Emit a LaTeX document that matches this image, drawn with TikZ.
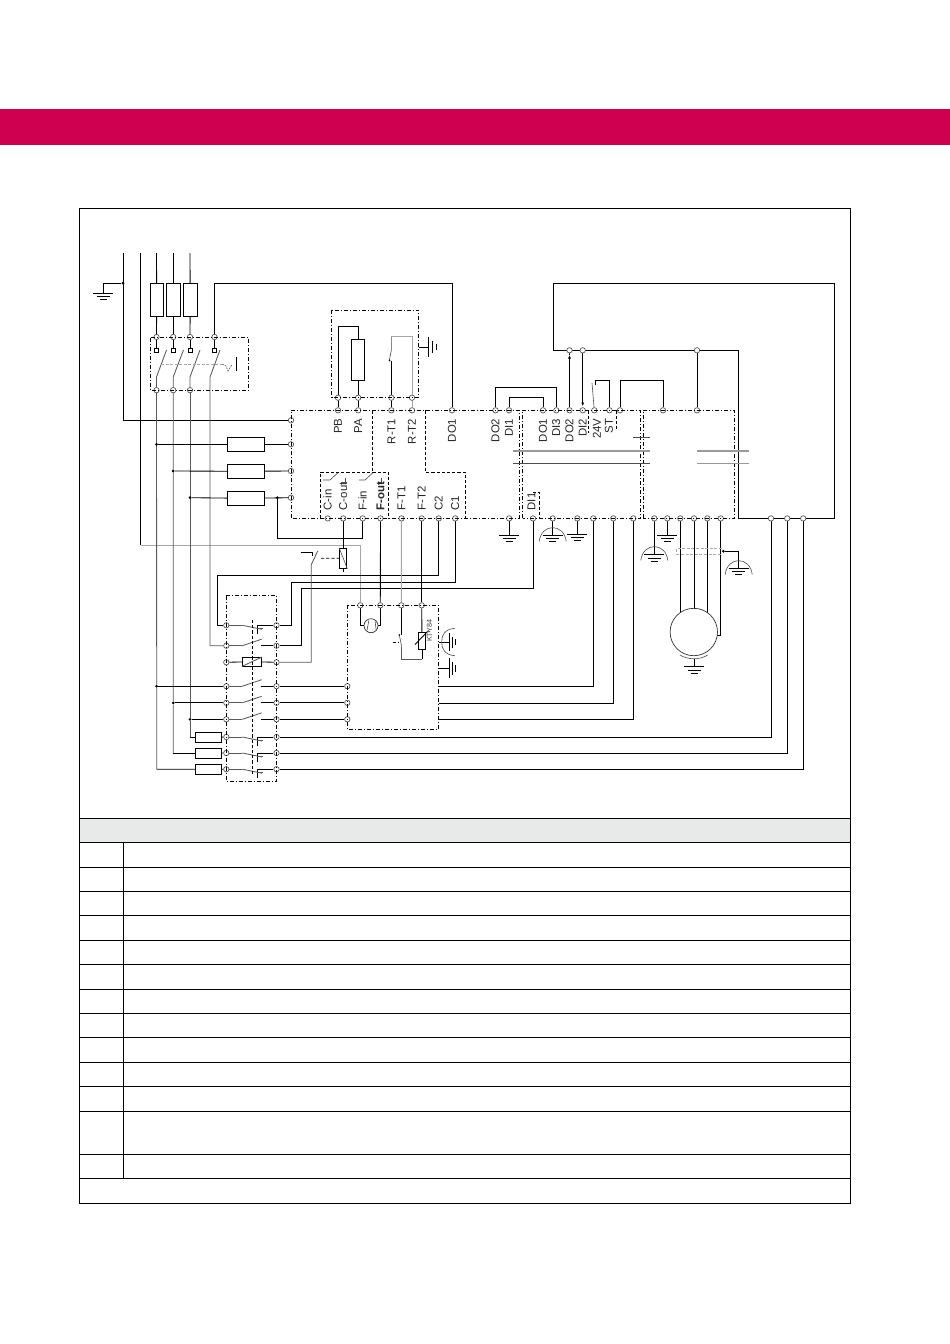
\documentclass[tikz,border=0pt]{standalone}
\usepackage{fontspec}
\setmainfont{Liberation Sans}
\usetikzlibrary{backgrounds,arrows.meta}
\definecolor{kebred}{RGB}{208,0,80}
\definecolor{headgrey}{RGB}{232,234,233}
\tikzset{
  term/.style={circle,draw=black!70,fill=white,line width=0.65pt,minimum size=5.4pt,inner sep=0pt},
  wire/.style={draw=black,line width=0.85pt},
  gwire/.style={draw=black!65,line width=0.85pt},
  lwire/.style={draw=black!35,line width=1pt},
  thin wire/.style={draw=black!70,line width=0.6pt},
  dbox/.style={draw=black,line width=0.8pt,dash pattern=on 4pt off 2pt on 1pt off 2pt},
  dsh/.style={draw=black,line width=0.8pt,dash pattern=on 3.2pt off 2pt},
  fuse/.style={rectangle,draw=black,fill=white,line width=0.85pt,inner sep=0pt},
  jdot/.style={circle,fill=black,inner sep=0pt,minimum size=3pt},
  lab/.style={rotate=90,inner sep=0pt,text=black!85,text height=7.8pt,text depth=0pt,font=\fontsize{11.4}{12}\selectfont},
  tab/.style={draw=black,line width=0.85pt}
}
\newcommand{\gndh}[2]{%
  \draw[wire] (#1-10,#2)--(#1+10,#2) (#1-6.5,#2+3.5)--(#1+6.5,#2+3.5) (#1-3.5,#2+6.5)--(#1+3.5,#2+6.5);}
\newcommand{\shield}[2]{%
  \draw[thin wire] (#1-13.5,#2+6.5) .. controls (#1-11.5,#2-12) and (#1+11.5,#2-12) .. (#1+13.5,#2+6.5);}
\newcommand{\nccontact}[1]{%
  \draw[gwire] (242.3,#1) -- (262,#1+4);
  \draw[wire] (257.3,#1) -- (257.3,#1+8.5);
  \draw[gwire] (257.3,#1+3.5) -- (263,#1+3.5);}
\newcommand{\nocontact}[1]{%
  \draw[gwire] (242.3,#1) -- (261.7,#1-6.5);}
\begin{document}
\begin{tikzpicture}[x=1pt,y=-1pt]
\useasboundingbox (0,0) rectangle (950,1344);
% band and frame
\fill[kebred] (0,108.5) rectangle (950,145);
\draw[tab] (79.5,208.5) rectangle (850.5,1203.3);
\fill[headgrey] (79.5,818.3) rectangle (850.5,842.3);
\foreach \yy in {818.3,842.3,867.3,891.3,915.3,940.3,964.3,989.3,1013.3,1037.3,1062.3,1086.3,1111.3,1154.3,1178.3}
  \draw[tab] (79.5,\yy) -- (850.5,\yy);
\draw[tab] (123.4,842.3) -- (123.4,1178.3);
\draw[tab] (79.5,208.5) rectangle (850.5,1203.3);
% terminals
\foreach \n/\x in {tPB/338,tPA/358.2,tRa/391.4,tRb/412,tDOa/452,tDOb/495.5,tDIa/509,tDOc/543,tDIc/556.3,tDOd/569.5,tDIb/582.7,tV/594.3,tST/609.5,tX/620,tY/663,tZ/697}
  \node[term] (\n) at (\x,410.3) {};
\foreach \n/\x in {bCi/327.7,bCo/343.2,bFi/362.7,bFo/380.5,bFa/401.5,bFb/421.7,bCb/438.7,bCa/455.3,bE/509.2,bDI/533,bSa/552.7,bSb/577.3,bUa/593.3,bUb/613.3,bUc/633.3,bSc/654.3,bSd/667.3,bMa/680.3,bMb/694,bMc/707.3,bMd/720.7,bWa/771,bWb/787.2,bWc/803.2}
  \node[term] (\n) at (\x,518.4) {};
\foreach \n/\x/\y in {rA/338/397.7,rB/358.2/397.7,rC/391.4/397.7,rD/412/397.7,
   qA/156.5/337,qB/173.2/337,qC/190/337,qD/214.5/337,
   sA/156.5/390.2,sB/173.2/390.2,sC/190/390.2,
   lA/291/420.3,lB/291/444.3,lC/291/471,lD/291/497.7,
   pA/569.5/350.3,pB/582.7/350.3,pC/697/350.3,
   mA/360.3/605.3,mB/380.3/605.3,mC/401.3/605.3,mD/421.7/605.3,
   mE/347.3/686.2,mF/347.3/702.8,mG/347.3/719.3}
  \node[term] (\n) at (\x,\y) {};
\foreach \i/\y in {1/625.3,2/645.7,3/662.3,4/686.2,5/702.8,6/719.3,7/737,8/753,9/769.2}{
  \node[term] (cL\i) at (226.3,\y) {};
  \node[term] (cR\i) at (276.5,\y) {};
}
% small contact squares
\foreach \n/\x in {kA/156.5,kB/173.2,kC/190,kD/214.5}
  \node[fuse,minimum size=4.2pt,line width=0.7pt] (\n) at (\x,350) {};
% free points and junctions
\coordinate (top1) at (123,253); \coordinate (top2) at (140.5,253);
\coordinate (top3) at (156.5,253); \coordinate (top4) at (173.2,253); \coordinate (top5) at (190,253);
\node[jdot] (jG) at (123,283) {};
\node[jdot] (jA) at (156.5,444.3) {};
\node[jdot] (jB) at (173.2,471) {};
\node[jdot] (jC) at (190,497.7) {};
\node[jdot] (jD) at (277.3,497.7) {};
\node[jdot] (jE) at (156.7,686.2) {};
\node[jdot] (jF) at (173.3,702.8) {};
\node[jdot] (jH) at (190,719.3) {};
\node[jdot] (jS) at (723.3,551.3) {};
% fuses and resistors
\foreach \n/\x in {fA/156.7,fB/173.2,fC/190.2}
  \node[fuse,minimum width=13.5pt,minimum height=33.5pt] (\n) at (\x,300) {};
\foreach \n/\y in {gA/444.3,gB/471.3,gC/498.3}
  \node[fuse,minimum width=37.4pt,minimum height=14pt] (\n) at (246,\y) {};
\foreach \n/\y in {hA/737.3,hB/753.1,hC/769.3}
  \node[fuse,minimum width=26pt,minimum height=10pt] (\n) at (208.3,\y) {};
\node[fuse,minimum width=13.4pt,minimum height=41.4pt] (rBrake) at (358.2,360) {};
\node[fuse,minimum width=7.4pt,minimum height=20.3pt] (rRel) at (343.2,558.2) {};
\node[fuse,minimum width=19.4pt,minimum height=8.7pt] (rCoil) at (252,661.7) {};
\node[fuse,minimum width=7.4pt,minimum height=17pt] (rKTY) at (422,640.8) {};
\node[circle,draw=black!80,line width=0.7pt,minimum size=47.4pt,inner sep=0pt] (motor) at (693.8,632) {};
\node[circle,draw=black!80,line width=0.7pt,minimum size=14pt,inner sep=0pt] (fan) at (371,625.7) {};
\begin{pgfonlayer}{background}
% supply lines
\draw[wire] (top1) -- (123,420.3) -- (lA);
\draw[wire] (jG) -- (103,283) -- (103,293);
\draw[wire] (top2) -- (140.5,545);
\draw[lwire] (140.5,545) -- (360.3,545) -- (mA);
\draw[wire] (top3) -- (fA); \draw[wire] (top4) -- (fB); \draw[wire] (top5) -- (fC);
\draw[wire] (fA) -- (qA); \draw[wire] (fB) -- (qB); \draw[wire] (fC) -- (qC);
\draw[wire] (qD) -- (214.5,283) -| (tDOa);
\draw[wire] (qA) -- (kA); \draw[wire] (qB) -- (kB); \draw[wire] (qC) -- (kC); \draw[wire] (qD) -- (kD);
\draw[gwire] (sA) -- (156.5,377) -- (166.5,350);
\draw[gwire] (sB) -- (173.2,377) -- (183.5,350);
\draw[gwire] (sC) -- (190,377) -- (200,350);
\draw[gwire] (cL2) -- (210,645.7) -- (210,377) -- (220,350);
\draw[gwire] (sA) -- (jE) (jE) -- (156.7,769.2);
\draw[gwire] (sB) -- (jF) (jF) -- (173.3,753);
\draw[gwire] (sC) -- (jH) (jH) -- (190,737);
\draw[wire] (156.7,769.2) -- (hC); \draw[wire] (173.3,753.1) -- (hB); \draw[wire] (190,737.3) -- (hA);
\draw[wire] (hC) -- (cL9); \draw[wire] (hB) -- (cL8); \draw[wire] (hA) -- (cL7);
\draw[wire] (jA) -- (gA) -- (lB); \draw[wire] (jB) -- (gB) -- (lC); \draw[wire] (jC) -- (gC) -- (lD);
\draw[wire] (bFi) -- (362.7,538.3) -- (277.3,538.3) -- (jD);
% brake resistor box
\draw[wire] (tPB) -- (338,326.7) -| (rBrake);
\draw[wire] (rBrake) -- (tPA);
\draw[wire] (tRa) -- (391.4,360.7);
\draw[thin wire] (389.4,360) -- (391.4,350) -- (391.4,336.7);
\draw[lwire] (391.4,336.7) -- (412,336.7) -- (tRb);
\draw[wire] (tDOb) -- ++(0,-22.8) -| (tDIc);
\draw[wire] (tDIa) -- ++(0,-13.3) -| (tDOc);
\draw[wire,-{Latex[length=3.5pt,width=3pt]}] (tDOd) -- (569.5,355);
\draw[wire] (569.5,355) -- (pA);
\draw[wire,-{Latex[length=3.5pt,width=3pt]}] (pB) -- (582.7,406);
\draw[thin wire] (tV) -- (592,383);
\draw[wire] (595,385) -- (595,380.3) -| (tST);
\draw[wire] (tX) -- ++(0,-30) -| (tY);
\draw[wire] (tZ) -- (pC);
\draw[wire] (553.3,350.3) -- (738.7,350.3) -- (738.7,518.6) -- (834.7,518.6) -- (834.7,283.3) -- (553.3,283.3) -- cycle;
% motor and outputs
\draw[wire] (bMa) -- (680.3,612.7);
\draw[wire] (bMb) -- (694,608.5);
\draw[wire] (bMc) -- (707.3,612.7);
\draw[wire] (bMd) -- (720.7,635.7) -- (717.4,635.7);
\draw[thin wire] (680,655) .. controls (688,660) and (700,660) .. (707.7,655);
\draw[wire] (694,658.5) -- (694,666.7);
\draw[draw=black!35,line width=0.7pt,dash pattern=on 3pt off 1.6pt] (722,548.3) -- (676.7,548.3) -- (676.7,554) -- (722,554);
\draw[wire] (jS) -- (738.7,551.3) -- (738.7,568.3);
\draw[wire] (bSc) -- (654.3,555);
\draw[wire] (bSd) -- (667.3,535.3);
\draw[wire] (bE) -- (509.2,535.3);
\draw[wire] (bSa) -- (552.7,535);
\draw[wire] (bSb) -- (577.3,534.3);
\draw[wire] (bDI) -- (533,588.3) -- (301.7,588.3) -- (301.7,645.7) -- (cR2);
\draw[wire] (bCb) -- (438.7,575) -- (217.3,575) -- (217.3,625.3) -- (cL1);
\draw[wire] (bCa) -- (455.3,582) -- (291.7,582) -- (291.7,625.3) -- (cR1);
\draw[wire] (bCo) -- (rRel); \draw[wire] (rRel) -- (343.2,571.7);
\draw[wire] (bFo) -- (mB);
\draw[lwire] (bFa) -- (mC);
\draw[wire] (bFb) -- (mD);
\draw[wire] (cR7) -- (771,737) -- (bWa);
\draw[wire] (cR8) -- (787.2,753) -- (bWb);
\draw[wire] (cR9) -- (803.2,769.2) -- (bWc);
\draw[wire] (cR4) -- (mE); \draw[wire] (cR5) -- (mF); \draw[wire] (cR6) -- (mG);
\draw[wire] (438.7,686.3) -- (593.3,686.3) -- (bUa);
\draw[wire] (438.7,703) -- (613.3,703) -- (bUb);
\draw[wire] (438.7,719.3) -- (633.3,719.3) -- (bUc);
% left contactor wiring
\draw[gwire] (cL1) -- (242.3,625.3); \draw[wire] (cR1) -- (257.3,625.3);
\draw[gwire] (cL2) -- (242.3,645.7); \draw[wire] (cR2) -- (260.7,645.7);
\draw[wire] (cL3) -- (rCoil) -- (cR3);
\draw[gwire] (cR3) -- (311.3,662.3) -- (311.3,564.6) -- (317.7,551);
\draw[wire] (300.7,552) -- (312.3,552) -- (312.3,556);
\draw[dsh] (321,558.3) -- (rRel);
\draw[wire] (jE) -- (cL4); \draw[wire] (jF) -- (cL5); \draw[wire] (jH) -- (cL6);
\draw[wire] (cR7) -- (257.3,737); \draw[wire] (cR8) -- (257.3,753); \draw[wire] (cR9) -- (257.3,769.2);
\foreach \yy in {686.2,702.8,719.3} { \draw[wire] (260.7,\yy) -- (276.5,\yy); \draw[gwire] (226.3,\yy) -- (242.3,\yy);}
\foreach \yy in {737,753,769.2} \draw[gwire] (226.3,\yy) -- (242.3,\yy);
% fan, thermal contact and sensor
\draw[wire] (mA) -- (360.3,625.7) -- (fan);
\draw[wire] (mB) -- (380.3,625.7) -- (fan);
\draw[wire] (mC) -- (401.3,635);
\draw[thin wire] (399.3,635) -- (401.7,646.7);
\draw[gwire] (401.7,646.7) -- (401.7,659.3) -- (422,659.3);
\draw[wire] (422,659.3) -- (rKTY);
\draw[wire] (mD) -- (rKTY);
\draw[wire] (438.7,642) -- (449.3,642);
\draw[wire] (438.7,668.3) -- (449.3,668.3);
\draw[wire] (418.7,347) -- (428.3,347);
\end{pgfonlayer}
% contacts
\draw[gwire] (rCoil.south west) -- (rCoil.north east);
\draw[thin wire] (rRel.north west) -- (rRel.south east);
\nccontact{625.3}
\nocontact{645.7}
\nocontact{686.2}\nocontact{702.8}\nocontact{719.3}
\nccontact{737}\nccontact{753}\nccontact{769.2}
\draw[thin wire] (367,630.5) -- (368.8,620.5) (375,620.5) -- (376.2,630.5);
% thermal details
\fill (399.3,635) circle (0.9pt);
\fill (389.6,360.5) circle (0.9pt);
\draw[dsh] (393,642.3) -- (399.3,642.3);
\draw[wire] (415,644.5) -- (427.3,631.7) -- (430,631.7);
\node[rotate=90,anchor=west,inner sep=0pt,text=black!75,font=\fontsize{7.2}{8}\selectfont] (lKTY) at (429.3,642) {KTY84};
% dash-dotted boxes
\draw[dbox] (150.5,337.5) rectangle (248.5,390);
\draw[dbox] (331.7,310.3) rectangle (418.7,397.7);
\draw[dbox] (291.2,518.4) -- (291.2,410.3) -- (519,410.3) -- (519,518.4) -- cycle;
\draw[dbox] (522.5,518.4) -- (522.5,410.3) -- (640.7,410.3) -- (640.7,518.4) -- cycle;
\draw[dbox] (643.3,518.4) -- (643.3,410.3) -- (734.7,410.3) -- (734.7,518.4) -- cycle;
\draw[dbox] (226.3,595.5) rectangle (276.6,781);
\draw[dbox] (347.3,605.3) rectangle (438.7,729.3);
\draw[dsh] (372.5,410.3) -- (372.5,472) (425.5,410.3) -- (425.5,472) -- (465,472) -- (465,518.4);
\draw[dsh] (320,518.4) -- (320,472) -- (388.5,472) -- (388.5,518.4);
\draw[dsh] (252.5,620) -- (252.5,775);
\draw[dsh] (533,492) -- (539.3,492) -- (539.3,518.4);
\draw[dsh] (588.3,410.3) -- (588.3,433);
\draw[dsh] (616,410.3) -- (616,430);
% switch-disconnector linkage
\draw[draw=black!35,line width=0.8pt,dash pattern=on 3pt off 1.5pt] (161,364) -- (222,364);
\draw[thin wire,dash pattern=on 2pt off 1pt] (222,364) -- (226,366) -- (228,371) -- (232,364.5);
\draw[wire] (236.5,357) -- (236.5,370.5);
% contactor symbols in the inverter
\draw[thin wire] (323,480) -- (330,480) -- (338,472.7);
\draw[thin wire] (359,480) -- (365,480) -- (373,472.7);
\draw[thin wire] (342,482) -- (345.5,482) -- (345.5,477.5);
\draw[thin wire] (378,482) -- (381.5,482) -- (381.5,477.5);
% bus bars and capacitor
\draw[draw=black!40,line width=1.3pt] (512.7,451) -- (650,451);
\draw[draw=black!70,line width=0.7pt] (512.7,463.5) -- (650,463.5);
\draw[draw=black!40,line width=1.3pt] (697,451) -- (749,451);
\draw[draw=black!40,line width=1.3pt] (697,463.7) -- (749,463.7);
\draw[thin wire] (633.3,437.3) -- (650,437.3);
% earths
\gndh{103}{293}
\gndh{509.2}{535.3}
\gndh{552.7}{535}\shield{552.7}{535}
\gndh{577.3}{534.3}
\gndh{654.3}{554.6}\shield{654.3}{554}
\gndh{667.3}{535.3}
\gndh{738.7}{568}\shield{738.7}{568}
\gndh{694}{666.7}
\draw[wire] (428.3,337) -- (428.3,356.7) (432.7,341) -- (432.7,353) (436,344) -- (436,350);
\draw[wire] (449.3,633) -- (449.3,651) (452.7,636.5) -- (452.7,647.5) (455.7,639) -- (455.7,645);
\draw[wire] (449.3,658) -- (449.3,678) (452.7,661.5) -- (452.7,674.5) (455.7,665) -- (455.7,671.5);
\draw[thin wire] (455,628.3) .. controls (445,629) and (441.5,635) .. (441.7,642) .. controls (441.5,649) and (445,655) .. (455,655.7);
% labels, top row
\foreach \n/\x/\t in {aPB/338/PB,aPA/358.2/PA,aRa/391.4/R-T1,aRb/412/R-T2,aDOa/452/DO1,aDOb/495.5/DO2,aDIa/509/DI1,aDOc/543/DO1,aDIc/556.3/DI3,aDOd/569.5/DO2,aDIb/582.7/DI2,aV/597/24V,aST/609/ST}
  \node[lab,anchor=east] (\n) at (\x,418.5) {\t};
% labels, bottom row
\foreach \n/\x/\t in {bl1/327.7/C-in,bl2/343.2/C-out,bl3/362.7/F-in,bl5/401.5/F-T1,bl6/421.7/F-T2,bl7/438.7/C2,bl8/455.3/C1,bl9/531.5/DI1}
  \node[lab,anchor=west] (\n) at (\x,510.5) {\t};
\node[lab,anchor=west,font=\fontsize{11.4}{12}\selectfont\bfseries] (bl4) at (380.5,510.5) {F-out};
\end{tikzpicture}
\end{document}
